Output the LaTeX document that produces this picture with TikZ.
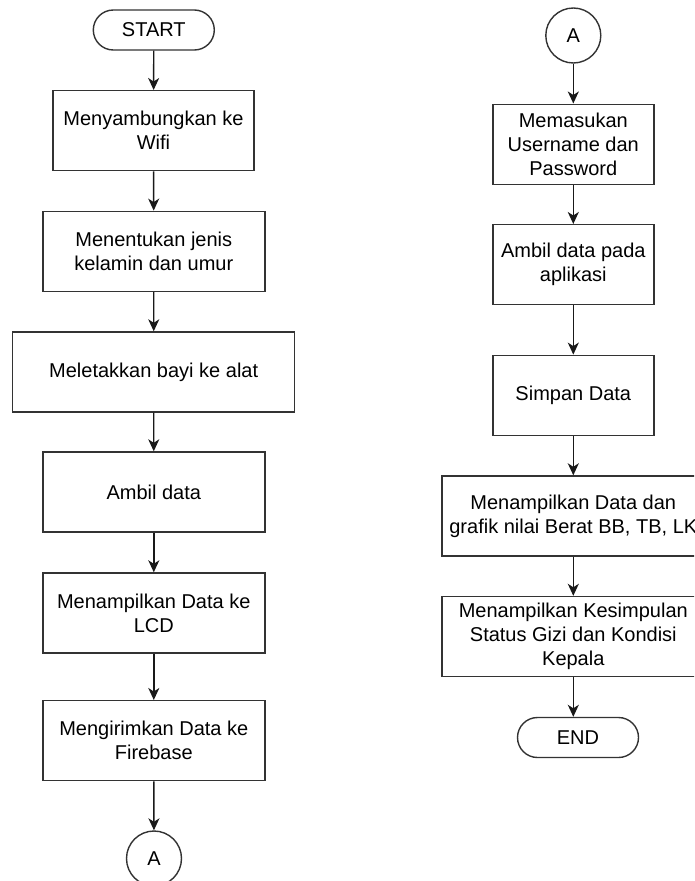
\documentclass[tikz,border=0pt]{standalone}
\usepackage{fontspec}
\setmainfont{Liberation Sans}
\usetikzlibrary{arrows.meta}
\begin{document}
\begin{tikzpicture}[x=1pt,y=-1pt,
  every node/.style={font=\fontsize{20}{24}\selectfont, align=center, inner sep=0pt, line width=1.4pt},
  procbox/.style={draw=black!80, rectangle, minimum height=80pt},
  termbox/.style={draw=black!80, rounded corners=20pt, minimum width=121pt, minimum height=40pt},
  conn/.style={draw=black!80, circle, minimum size=55pt},
  flow/.style={line width=1.4pt, draw=black!90, -{Stealth[length=12pt,width=11pt,inset=3.5pt]}}
]
\useasboundingbox (0,0) rectangle (694,881);
\fill[white] (0,0) rectangle (694,881);
\clip (0,0) rectangle (694,881);
% left column
\node[termbox] (start) at (153.8,30) {START};
\node[procbox, minimum width=201pt] (b1) at (153.5,130.7) {Menyambungkan ke\\Wifi};
\node[procbox, minimum width=222pt] (b2) at (153.8,251.3) {Menentukan jenis\\kelamin dan umur};
\node[procbox, minimum width=282pt] (b3) at (153.7,372) {Meletakkan bayi ke alat};
\node[procbox, minimum width=222pt] (b4) at (153.8,492) {Ambil data};
\node[procbox, minimum width=222pt] (b5) at (153.8,613) {Menampilkan Data ke\\LCD};
\node[procbox, minimum width=222pt] (b6) at (153.8,740.7) {Mengirimkan Data ke\\Firebase};
\node[conn] (al) at (154,858.5) {A};
% right column
\node[conn] (ar) at (573.3,35.5) {A};
\node[procbox, minimum width=161pt] (r1) at (573.3,144.2) {Memasukan\\Username dan\\Password};
\node[procbox, minimum width=161pt] (r2) at (573.3,264.7) {Ambil data pada\\aplikasi};
\node[procbox, minimum width=161pt] (r3) at (573.3,395.3) {Simpan Data};
\node[procbox, minimum width=262.6pt] (r4) at (573.3,516) {Menampilkan Data dan\\grafik nilai Berat BB, TB, LK};
\node[procbox, minimum width=262.6pt] (r5) at (573.3,636.5) {Menampilkan Kesimpulan\\Status Gizi dan Kondisi\\Kepala};
\node[termbox] (end) at (578,737.5) {END};
% connectors
\draw[flow] (start) -- (b1);
\draw[flow] (b1) -- (b2);
\draw[flow] (b2) -- (b3);
\draw[flow] (b3) -- (b4);
\draw[flow] (b4) -- (b5);
\draw[flow] (b5) -- (b6);
\draw[flow] (b6) -- (al);
\draw[flow] (ar) -- (r1);
\draw[flow] (r1) -- (r2);
\draw[flow] (r2) -- (r3);
\draw[flow] (r3) -- (r4);
\draw[flow] (r4) -- (r5);
\draw[flow] (r5.south) -- (r5.south |- end.north);
\end{tikzpicture}
\end{document}
